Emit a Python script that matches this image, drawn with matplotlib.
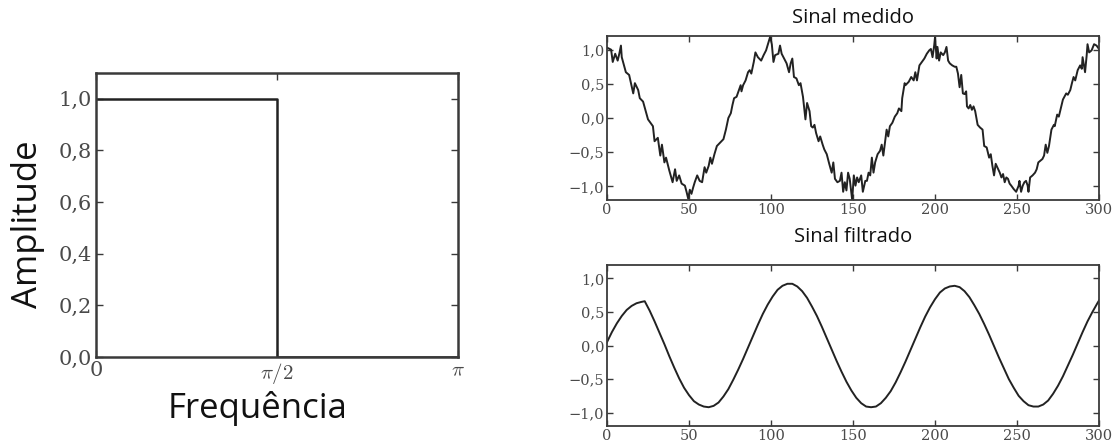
import numpy as np
import matplotlib
matplotlib.use("Agg")
import matplotlib.pyplot as plt

# ---------------- data ----------------
# Ideal low-pass filter response (left panel)
freq_points = [0.0, np.pi / 2, np.pi / 2, np.pi]
amp_points = [1.0, 1.0, 0.0, 0.0]
freq_tick_vals = [0.0, np.pi / 2, np.pi]
freq_tick_labels = ["0", r"$\pi/2$", r"$\pi$"]
amp_tick_vals = [0.0, 0.2, 0.4, 0.6, 0.8, 1.0]
amp_tick_labels = ["0,0", "0,2", "0,4", "0,6", "0,8", "1,0"]

measured_x = [0, 2.5, 3.5, 5, 6.5, 7.5, 8.5, 9, 11.5, 13.5, 16, 17, 19, 20, 22, 25, 26.5, 28, 29, 31,
              32.5, 33.5, 35, 36, 38, 40, 41.5, 42.5, 44, 45.5, 47.5, 48.5, 49.5, 50.5, 51.5, 52.5,
              53.5, 55, 56.5, 58, 59.5, 60.5, 62, 63, 64, 65.5, 67, 69, 71, 72.5, 74, 75.5, 76.5,
              77.5, 79, 80.5, 81.5, 82, 83, 84.5, 86, 87, 88, 89.5, 90.5, 92, 94, 95.5, 97, 98.5,
              99.5, 100.5, 101.5, 102.5, 104.5, 105.5, 106.5, 108, 109.5, 111, 112, 113, 114, 115.5,
              117, 118, 119.5, 121, 122, 123.5, 124.5, 125.5, 126.5, 127.5, 129, 130, 131.5, 132.5,
              134, 135.5, 137, 138, 139, 140.5, 142, 143, 144, 145, 146, 147, 148, 149.5, 150.5,
              151.5, 152.5, 153.5, 155, 156, 157.5, 158.5, 159.5, 160.5, 161.5, 162.5, 163.5, 165,
              166.5, 167.5, 168.5, 169.5, 170.5, 171.5, 172.5, 174, 175.5, 177, 178, 179.5, 180,
              181.5, 182, 184, 185.5, 187, 188, 189, 190.5, 192, 193.5, 195, 196.5, 197.5, 198.5,
              199.5, 200, 201, 201.5, 202.5, 203.5, 205, 206, 207, 208, 209, 210.5, 212, 213, 214,
              215, 216, 217, 218, 219, 219.5, 220.5, 221.5, 222.5, 223.5, 224.5, 226, 227.5, 229,
              230, 231.5, 233, 234, 235, 236, 237, 238.5, 239.5, 240.5, 241.5, 242.5, 243.5, 244.5,
              245.5, 246.5, 248, 249.5, 251, 251.5, 252.5, 253.5, 254.5, 255.5, 256.5, 257, 258,
              259.5, 261, 262, 263, 264, 265.5, 266.5, 267.5, 268.5, 269.5, 271, 272.5, 273, 274.5,
              275.5, 276.5, 278, 280, 281, 282.5, 283.5, 284.5, 285.5, 287, 288.5, 289.5, 290,
              291.5, 292.5, 293, 294, 295.5, 297, 298.5, 300]
measured_y = [1.03, 1.00, 0.82, 0.94, 0.84, 0.94, 1.06, 0.89, 0.67, 0.63, 0.36, 0.51, 0.41, 0.29, 0.24,
              -0.02, -0.07, -0.12, -0.34, -0.29, -0.55, -0.39, -0.65, -0.58, -0.77, -0.94, -0.75,
              -0.92, -0.84, -0.96, -0.99, -1.08, -1.18, -1.05, -1.11, -1.02, -0.94, -0.84, -0.92,
              -0.94, -0.72, -0.80, -0.70, -0.58, -0.67, -0.53, -0.41, -0.36, -0.31, -0.17, 0.00,
              0.07, 0.19, 0.29, 0.31, 0.41, 0.48, 0.39, 0.48, 0.55, 0.67, 0.70, 0.65, 0.82, 0.96,
              0.89, 0.84, 0.92, 0.99, 1.11, 1.19, 1.08, 0.82, 0.92, 0.94, 1.06, 0.94, 0.87, 0.80,
              0.67, 0.80, 0.87, 0.60, 0.58, 0.48, 0.51, 0.31, -0.02, 0.22, 0.10, -0.12, -0.14, -0.10,
              -0.22, -0.34, -0.27, -0.39, -0.46, -0.53, -0.67, -0.80, -0.65, -0.89, -0.94, -0.92,
              -0.80, -1.08, -0.94, -1.06, -0.80, -0.89, -1.20, -0.84, -0.99, -0.87, -0.94, -0.84,
              -1.08, -0.92, -0.92, -0.80, -0.84, -0.58, -0.80, -0.65, -0.53, -0.48, -0.39, -0.55,
              -0.36, -0.17, -0.27, -0.12, -0.07, 0.02, 0.07, 0.14, 0.10, 0.29, 0.51, 0.48, 0.53,
              0.60, 0.55, 0.67, 0.55, 0.77, 0.82, 0.87, 0.94, 0.99, 1.01, 0.89, 1.06, 1.18, 0.87,
              1.04, 0.84, 0.96, 0.92, 0.96, 1.04, 0.84, 0.80, 0.77, 0.75, 0.75, 0.65, 0.45, 0.63,
              0.36, 0.35, 0.39, 0.17, 0.14, 0.19, 0.12, 0.17, 0.10, -0.10, -0.14, -0.17, -0.41,
              -0.43, -0.58, -0.53, -0.70, -0.84, -0.67, -0.75, -0.80, -0.87, -0.82, -0.94, -0.87,
              -0.89, -0.96, -0.99, -1.04, -1.08, -0.99, -0.92, -1.08, -0.99, -0.94, -0.92, -0.99,
              -1.08, -0.87, -0.84, -0.80, -0.75, -0.65, -0.63, -0.60, -0.55, -0.39, -0.51, -0.41,
              -0.17, -0.10, -0.12, 0.05, 0.02, 0.12, 0.27, 0.36, 0.34, 0.41, 0.51, 0.60, 0.55,
              0.70, 0.77, 0.72, 0.89, 0.67, 0.92, 1.08, 0.96, 0.99, 1.08, 1.06, 1.01]

# Filtered signal
filtered_x = [0, 3, 6, 9, 12, 15, 18, 21, 23, 26, 29, 32, 35, 38, 41, 44, 47, 50, 53, 56, 59, 62,
              65, 68, 71, 74, 77, 80, 83, 86, 89, 92, 95, 98, 101, 104, 107, 110, 113, 116, 119,
              122, 125, 128, 131, 134, 137, 140, 143, 146, 149, 152, 155, 158, 161, 164, 167, 170,
              173, 176, 179, 182, 185, 188, 191, 194, 197, 200, 203, 206, 209, 212, 215, 218, 221,
              224, 227, 230, 233, 236, 239, 242, 245, 248, 251, 254, 257, 260, 263, 266, 269, 272,
              275, 278, 281, 284, 287, 290, 293, 296, 299, 300]
filtered_y = [0.05, 0.20, 0.33, 0.44, 0.53, 0.59, 0.63, 0.65, 0.66, 0.52, 0.36, 0.19, 0.02, -0.16,
              -0.33, -0.49, -0.63, -0.74, -0.83, -0.88, -0.91, -0.92, -0.90, -0.85, -0.76, -0.65,
              -0.51, -0.36, -0.20, -0.03, 0.14, 0.31, 0.47, 0.61, 0.73, 0.83, 0.89, 0.92, 0.92,
              0.88, 0.81, 0.71, 0.58, 0.44, 0.28, 0.11, -0.06, -0.23, -0.39, -0.54, -0.67, -0.78,
              -0.86, -0.91, -0.92, -0.91, -0.86, -0.78, -0.68, -0.55, -0.40, -0.24, -0.07, 0.10,
              0.27, 0.43, 0.57, 0.69, 0.79, 0.85, 0.88, 0.89, 0.87, 0.81, 0.72, 0.60, 0.47, 0.32,
              0.16, -0.01, -0.18, -0.34, -0.50, -0.63, -0.75, -0.83, -0.89, -0.91, -0.91, -0.88,
              -0.82, -0.72, -0.60, -0.46, -0.30, -0.14, 0.03, 0.20, 0.36, 0.50, 0.63, 0.67]

sig_xticks = [0, 50, 100, 150, 200, 250, 300]
sig_yticks = [-1.0, -0.5, 0.0, 0.5, 1.0]
sig_yticklabels = ["\u22121,0", "\u22120,5", "0,0", "0,5", "1,0"]

# ---------------- style ----------------
plt.rcParams["mathtext.fontset"] = "cm"
LINE = "#222222"
SPINE = "#3a3a3a"
TICKC = "#4a4a4a"
SANS = ["Open Sans", "DejaVu Sans"]
SERIF = ["DejaVu Serif"]

W, H = 1120, 445
fig = plt.figure(figsize=(W / 100, H / 100), dpi=100)


def rect(l, t, r, b):
    return [l / W, 1 - b / H, (r - l) / W, (b - t) / H]


def style(ax, lw, size, length, pad):
    for s in ax.spines.values():
        s.set_color(SPINE)
        s.set_linewidth(lw)
    ax.tick_params(direction="in", top=True, right=True, length=length, width=1,
                   color=SPINE, labelcolor=TICKC, labelsize=size, pad=pad)
    for lab in ax.get_xticklabels() + ax.get_yticklabels():
        lab.set_family(SERIF)


# Left panel
ax1 = fig.add_axes(rect(96, 73, 458, 357))
ax1.plot(freq_points, amp_points, color=LINE, lw=1.8)
ax1.set_xlim(0, np.pi)
ax1.set_ylim(0, 1.1)
ax1.set_xticks(freq_tick_vals)
ax1.set_xticklabels(freq_tick_labels)
ax1.set_yticks(amp_tick_vals)
ax1.set_yticklabels(amp_tick_labels)
style(ax1, 1.8, 15, 5, 3)

# Top right: measured signal
ax2 = fig.add_axes(rect(607, 36, 1099, 200))
ax2.plot(measured_x, measured_y, color=LINE, lw=1.4)
ax2.set_xlim(0, 300)
ax2.set_ylim(-1.2, 1.2)
ax2.set_xticks(sig_xticks)
ax2.set_yticks(sig_yticks)
ax2.set_yticklabels(sig_yticklabels)
style(ax2, 1.3, 10.5, 4, 2)

# Bottom right: filtered signal
ax3 = fig.add_axes(rect(607, 265, 1099, 426))
ax3.plot(filtered_x, filtered_y, color=LINE, lw=1.4)
ax3.set_xlim(0, 300)
ax3.set_ylim(-1.2, 1.2)
ax3.set_xticks(sig_xticks)
ax3.set_yticks(sig_yticks)
ax3.set_yticklabels(sig_yticklabels)
style(ax3, 1.3, 10.5, 4, 2)

# Texts
fig.text(258 / W, 1 - 409 / H, "Frequência", family=SANS, fontsize=25,
         ha="center", va="center", color="#111111")
fig.text(28 / W, 1 - 224 / H, "Amplitude", family=SANS, fontsize=25,
         ha="center", va="center", rotation=90, color="#111111")
fig.text(853 / W, 1 - 18 / H, "Sinal medido", family=SANS, fontsize=14.5,
         ha="center", va="center", color="#111111")
fig.text(853 / W, 1 - 237 / H, "Sinal filtrado", family=SANS, fontsize=14.5,
         ha="center", va="center", color="#111111")

fig.savefig("out.png", dpi=100)
